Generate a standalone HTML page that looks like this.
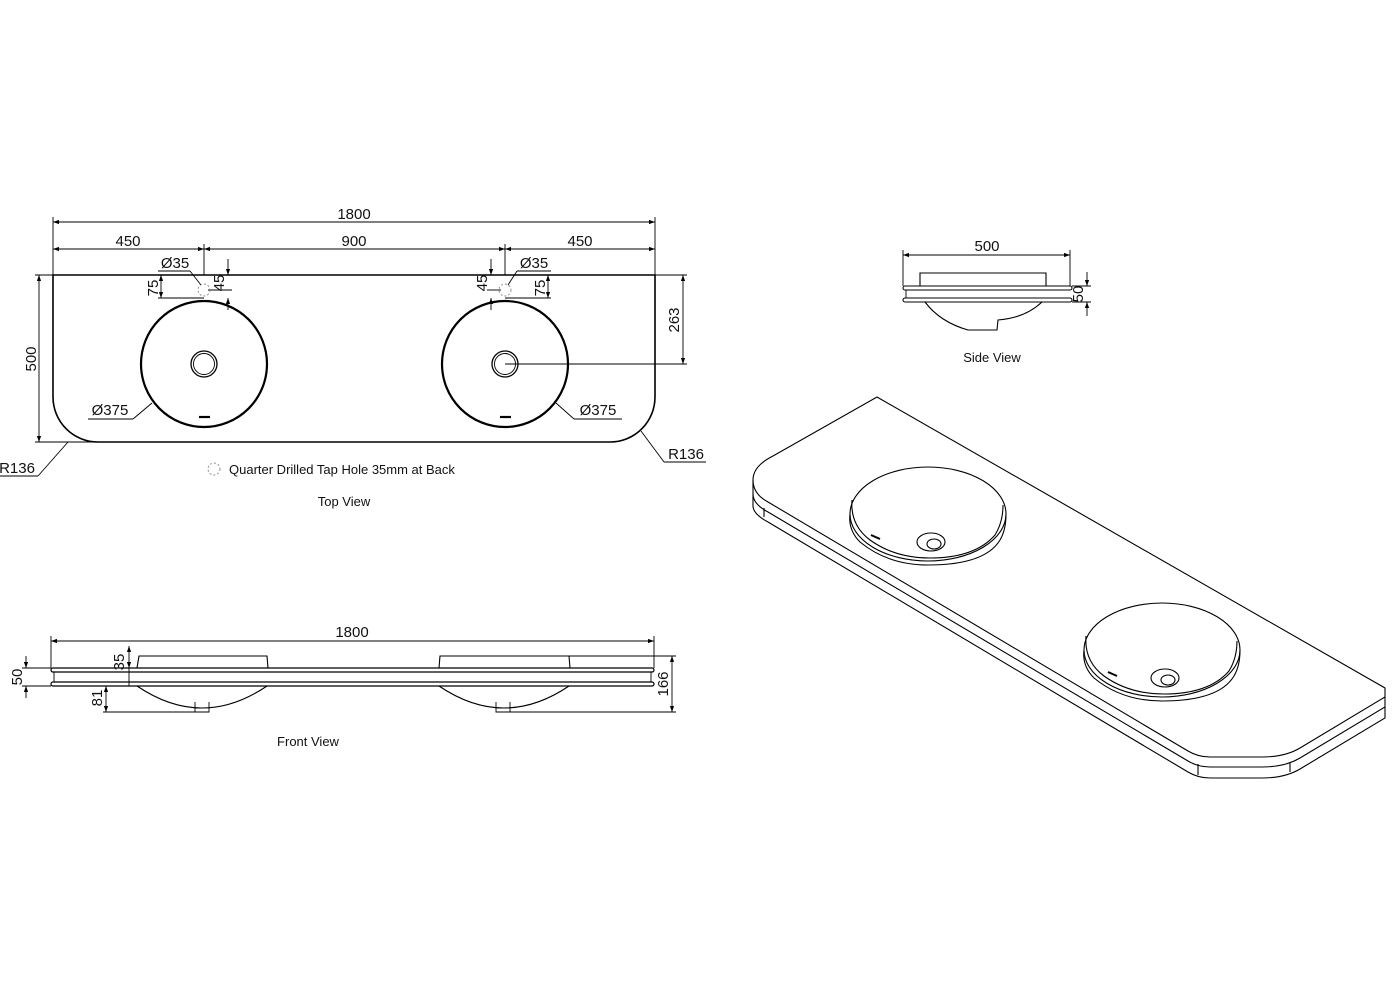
<!DOCTYPE html>
<html><head><meta charset="utf-8"><style>
html,body{margin:0;padding:0;background:#fff;}
svg{display:block;}
text{font-family:"Liberation Sans",Arial,sans-serif;font-size:15px;fill:#111;}
.s{font-size:13px;}
</style></head><body>
<svg width="1400" height="993" viewBox="0 0 1400 993" xmlns="http://www.w3.org/2000/svg">
<defs>
<marker id="a" viewBox="0 0 10 10" refX="10" refY="5" markerWidth="8" markerHeight="6" orient="auto-start-reverse" markerUnits="userSpaceOnUse"><path d="M0,1.5 L10,5 L0,8.5z" fill="#000"/></marker>
</defs>
<g fill="none" stroke="#000" stroke-width="0.9">
<!-- TOP VIEW dims -->
<line x1="53" y1="222" x2="655" y2="222" marker-start="url(#a)" marker-end="url(#a)"/>
<line x1="53" y1="249" x2="204" y2="249" marker-start="url(#a)" marker-end="url(#a)"/>
<line x1="204" y1="249" x2="505" y2="249" marker-start="url(#a)" marker-end="url(#a)"/>
<line x1="505" y1="249" x2="655" y2="249" marker-start="url(#a)" marker-end="url(#a)"/>
<line x1="53" y1="217" x2="53" y2="275"/>
<line x1="655" y1="217" x2="655" y2="275"/>
<line x1="204" y1="244" x2="204" y2="275"/>
<line x1="505" y1="244" x2="505" y2="275"/>
<line x1="35" y1="275" x2="53" y2="275"/>
<line x1="35" y1="442" x2="98" y2="442"/>
<line x1="39" y1="275" x2="39" y2="442" marker-start="url(#a)" marker-end="url(#a)"/>
<line x1="655" y1="275" x2="687" y2="275"/>
<line x1="505" y1="364" x2="687" y2="364"/>
<line x1="683" y1="275" x2="683" y2="364" marker-start="url(#a)" marker-end="url(#a)"/>
<line x1="158" y1="298" x2="204" y2="298"/>
<line x1="161" y1="275" x2="161" y2="298" marker-start="url(#a)" marker-end="url(#a)"/>
<line x1="505" y1="298" x2="551" y2="298"/>
<line x1="548" y1="275" x2="548" y2="298" marker-start="url(#a)" marker-end="url(#a)"/>
<line x1="228" y1="259" x2="228" y2="275" marker-end="url(#a)"/>
<line x1="228" y1="310" x2="228" y2="298" marker-end="url(#a)"/>
<line x1="208" y1="290" x2="232" y2="290"/>
<line x1="491" y1="259" x2="491" y2="275" marker-end="url(#a)"/>
<line x1="491" y1="310" x2="491" y2="298" marker-end="url(#a)"/>
<line x1="487" y1="290" x2="501" y2="290"/>
<line x1="158" y1="271" x2="190" y2="271"/><line x1="190" y1="271" x2="201" y2="285"/>
<line x1="517" y1="271" x2="551" y2="271"/><line x1="517" y1="271" x2="508" y2="285"/>
<line x1="88" y1="419" x2="133" y2="419"/><line x1="133" y1="419" x2="152" y2="403"/>
<line x1="574" y1="419" x2="622" y2="419"/><line x1="574" y1="419" x2="556" y2="403"/>
<line x1="0" y1="476" x2="38" y2="476"/><line x1="38" y1="476" x2="68" y2="442"/>
<line x1="664" y1="462" x2="706" y2="462"/><line x1="664" y1="462" x2="641" y2="431"/>
<!-- top outline -->
<path d="M53,275 L53,397 A45,45 0 0 0 98,442 L610,442 A45,45 0 0 0 655,397 L655,275 Z" stroke-width="1.6"/>
<circle cx="204" cy="364" r="63" stroke-width="2.2"/>
<circle cx="505" cy="364" r="63" stroke-width="2.2"/>
<circle cx="204" cy="364" r="13" stroke-width="1.3"/><circle cx="204" cy="364" r="10.5"/>
<circle cx="505" cy="364" r="13" stroke-width="1.3"/><circle cx="505" cy="364" r="10.5"/>
<line x1="199" y1="417" x2="210" y2="417" stroke-width="2.2"/>
<line x1="500" y1="417" x2="511" y2="417" stroke-width="2.2"/>
<g stroke="#888" stroke-dasharray="2,2"><circle cx="204" cy="290" r="6"/><circle cx="505" cy="290" r="6"/><circle cx="214" cy="469" r="6"/></g>

<!-- FRONT VIEW -->
<line x1="51" y1="641" x2="654" y2="641" marker-start="url(#a)" marker-end="url(#a)"/>
<line x1="51" y1="636" x2="51" y2="668"/><line x1="654" y1="636" x2="654" y2="668"/>
<rect x="51" y="668" width="603" height="4" rx="2" stroke-width="1.2"/>
<rect x="51" y="682" width="603" height="4" rx="2" stroke-width="1.2"/>
<line x1="54" y1="672" x2="54" y2="682"/><line x1="651" y1="672" x2="651" y2="682"/>
<path d="M137,668 L139,656 L267,656 L268,668 M439,668 L440,656 L569,656 L570,668" stroke-width="1.1"/>
<path d="M137,686 Q202,730 267,686 M439,686 Q504,730 569,686" stroke-width="1.1"/>
<path d="M195,702 L195,712 L209,712 L209,702 M496,702 L496,712 L510,712 L510,702"/>
<line x1="569" y1="656" x2="676" y2="656"/><line x1="510" y1="712" x2="676" y2="712"/>
<line x1="672" y1="656" x2="672" y2="712" marker-start="url(#a)" marker-end="url(#a)"/>
<line x1="103" y1="712" x2="195" y2="712"/>
<line x1="106" y1="686" x2="106" y2="712" marker-start="url(#a)" marker-end="url(#a)"/>
<line x1="129" y1="646" x2="129" y2="668" marker-start="url(#a)" marker-end="url(#a)"/>
<line x1="129" y1="668" x2="129" y2="686"/>
<line x1="22" y1="668" x2="51" y2="668"/><line x1="22" y1="686" x2="51" y2="686"/>
<line x1="26" y1="656" x2="26" y2="668" marker-end="url(#a)"/>
<line x1="26" y1="698" x2="26" y2="686" marker-end="url(#a)"/>

<!-- SIDE VIEW -->
<line x1="903" y1="255" x2="1070" y2="255" marker-start="url(#a)" marker-end="url(#a)"/>
<line x1="903" y1="250" x2="903" y2="286"/><line x1="1070" y1="250" x2="1070" y2="286"/>
<path d="M920,286 L920,273 L1046,273 L1046,286" stroke-width="1.1"/>
<rect x="903" y="286" width="169" height="4" rx="2" stroke-width="1.1"/>
<rect x="903" y="298" width="169" height="4" rx="2" stroke-width="1.1"/>
<line x1="906" y1="290" x2="906" y2="298"/>
<path d="M925,302 Q940,322 968,330 L997,330 L998,320 Q1025,318 1042,302" stroke-width="1.1"/>
<line x1="1072" y1="286" x2="1091" y2="286"/><line x1="1072" y1="302" x2="1091" y2="302"/>
<line x1="1087" y1="272" x2="1087" y2="286" marker-end="url(#a)"/>
<line x1="1087" y1="316" x2="1087" y2="302" marker-end="url(#a)"/>

<!-- ISO VIEW -->
<g stroke-width="1.1">
<path d="M877,397 L1385,688 L1385,697 L1300,748 Q1285,757 1262,757 L1210,757 Q1198,757 1188,751 L768,502 Q753,494 753,480 Q753,466 773,456 Z"/>
<path d="M753,480 L753,494 Q753,504 768,512 L1188,761 Q1198,767 1210,767 L1262,767 Q1285,767 1300,758 L1385,707 L1385,697"/>
<path d="M753,494 L753,506 Q753,514 768,522 L1188,772 Q1198,778 1210,778 L1262,778 Q1285,778 1300,769 L1385,718 L1385,707"/>
<line x1="764" y1="508" x2="764" y2="517"/><line x1="1198" y1="764" x2="1198" y2="775"/><line x1="1290" y1="762" x2="1290" y2="772"/>
<ellipse cx="928" cy="514" rx="78" ry="47"/>
<path d="M850,514 Q848,530 860,542 Q888,565 928,565 Q985,565 1000,540 Q1006,530 1006,514"/>
<ellipse cx="928" cy="510" rx="76" ry="44" stroke="none"/>
<path d="M852,500 Q850,525 870,540 Q895,558 930,558 Q975,558 995,535 Q1003,522 1003,505" />
<ellipse cx="931" cy="542" rx="14" ry="9"/><ellipse cx="934" cy="544" rx="7" ry="5"/>
<line x1="871" y1="535" x2="880" y2="539" stroke-width="2"/>
<ellipse cx="1162" cy="650" rx="78" ry="47"/>
<path d="M1084,650 Q1082,666 1094,678 Q1122,701 1162,701 Q1219,701 1234,676 Q1240,666 1240,650"/>
<path d="M1086,636 Q1084,661 1104,676 Q1129,694 1164,694 Q1209,694 1229,671 Q1237,658 1237,641"/>
<ellipse cx="1165" cy="678" rx="14" ry="9"/><ellipse cx="1168" cy="680" rx="7" ry="5"/>
<line x1="1108" y1="672" x2="1117" y2="676" stroke-width="2"/>
</g>
</g>
<g>
<text x="354" y="219" text-anchor="middle">1800</text>
<text x="128" y="246" text-anchor="middle">450</text>
<text x="354" y="246" text-anchor="middle">900</text>
<text x="580" y="246" text-anchor="middle">450</text>
<text x="175" y="268" text-anchor="middle">Ø35</text>
<text x="534" y="268" text-anchor="middle">Ø35</text>
<text transform="translate(158,288) rotate(-90)" text-anchor="middle">75</text>
<text transform="translate(545,288) rotate(-90)" text-anchor="middle">75</text>
<text transform="translate(224,283) rotate(-90)" text-anchor="middle">45</text>
<text transform="translate(487,283) rotate(-90)" text-anchor="middle">45</text>
<text transform="translate(36,359) rotate(-90)" text-anchor="middle">500</text>
<text transform="translate(679,320) rotate(-90)" text-anchor="middle">263</text>
<text x="110" y="415" text-anchor="middle">Ø375</text>
<text x="598" y="415" text-anchor="middle">Ø375</text>
<text x="17" y="473" text-anchor="middle">R136</text>
<text x="686" y="459" text-anchor="middle">R136</text>
<text x="229" y="474" class="s">Quarter Drilled Tap Hole 35mm at Back</text>
<text x="344" y="506" class="s" text-anchor="middle">Top View</text>
<text x="352" y="637" text-anchor="middle">1800</text>
<text transform="translate(124,662) rotate(-90)" text-anchor="middle">35</text>
<text transform="translate(22,677) rotate(-90)" text-anchor="middle">50</text>
<text transform="translate(102,698) rotate(-90)" text-anchor="middle">81</text>
<text transform="translate(668,684) rotate(-90)" text-anchor="middle">166</text>
<text x="308" y="746" class="s" text-anchor="middle">Front View</text>
<text x="987" y="251" text-anchor="middle">500</text>
<text transform="translate(1083,294) rotate(-90)" text-anchor="middle">50</text>
<text x="992" y="362" class="s" text-anchor="middle">Side View</text>
</g>
</svg>
</body></html>
